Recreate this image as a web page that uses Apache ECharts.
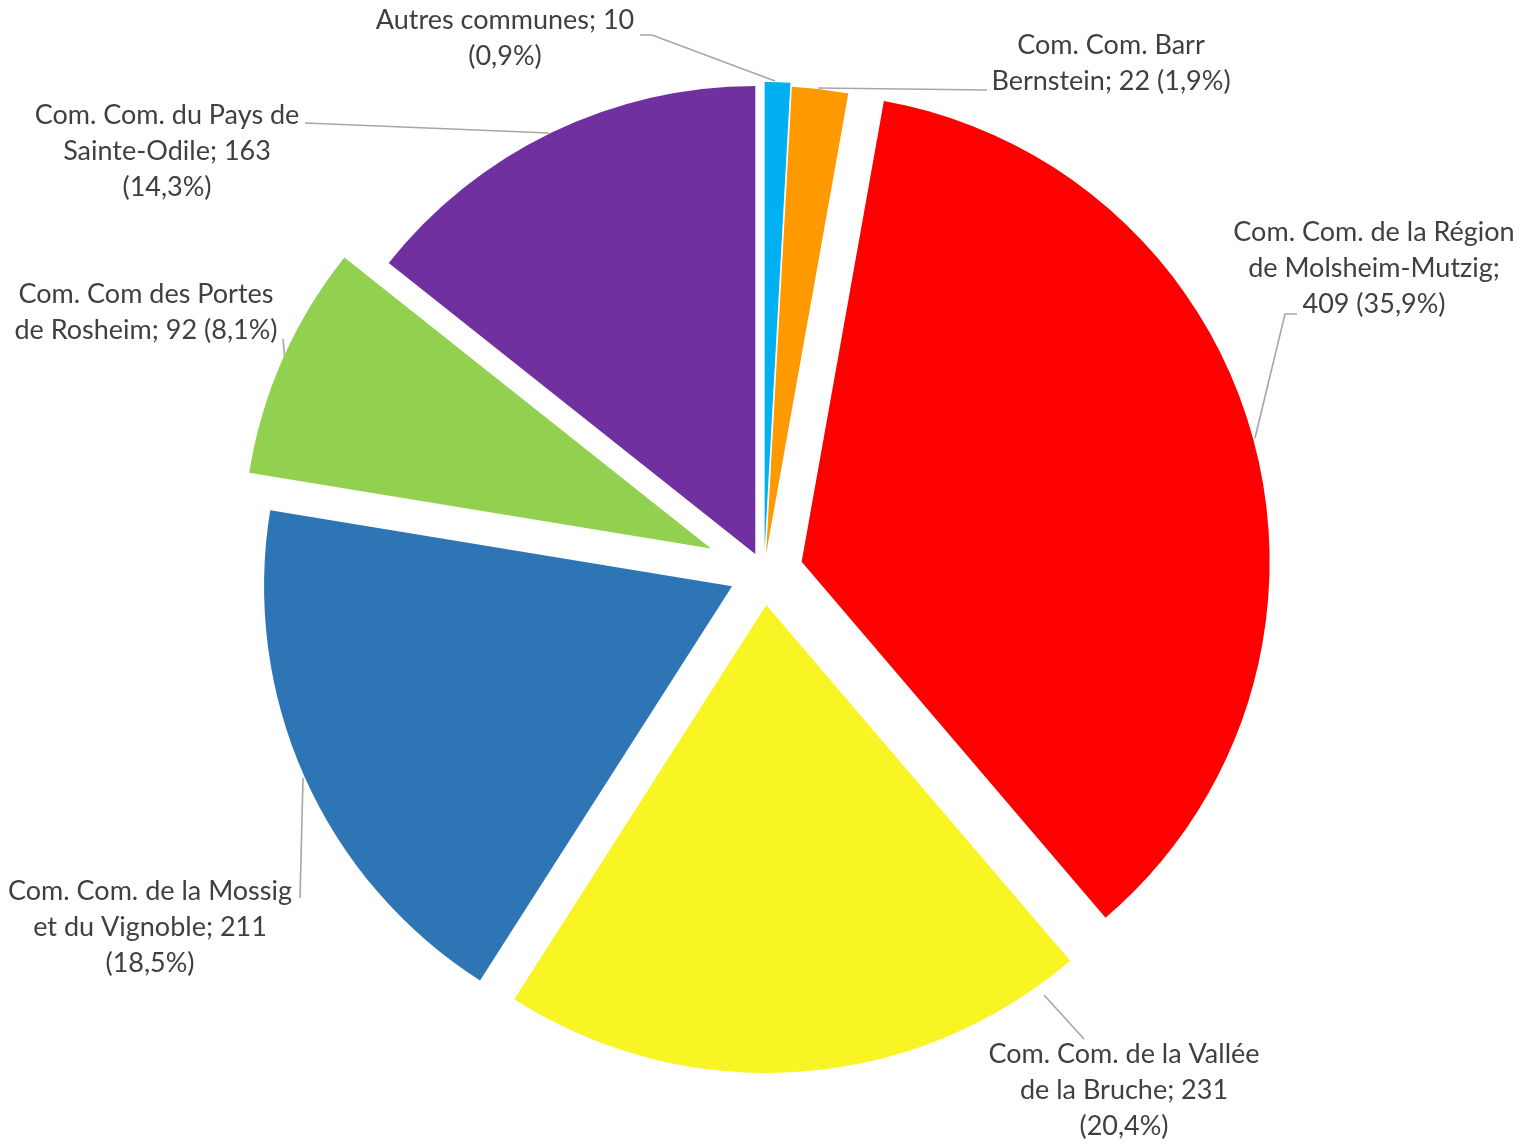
<!DOCTYPE html>
<html><head><meta charset="utf-8">
<script src="https://cdn.jsdelivr.net/npm/echarts@6/dist/echarts.min.js"></script>
<style>html,body{margin:0;padding:0;background:#fff}#c{width:1531px;height:1144px}</style>
</head><body><div id="c"></div>
<script>
// ---- data ----
const categories = [
  'Autres communes',
  'Com. Com. Barr Bernstein',
  'Com. Com. de la Région de Molsheim-Mutzig',
  'Com. Com. de la Vallée de la Bruche',
  'Com. Com. de la Mossig et du Vignoble',
  'Com. Com des Portes de Rosheim',
  'Com. Com. du Pays de Sainte-Odile'
];
const values = [10, 22, 409, 231, 211, 92, 163];
const percentLabels = ['0,9%', '1,9%', '35,9%', '20,4%', '18,5%', '8,1%', '14,3%'];

// ---- style / layout ----
const colors = ['#00B0F0', '#FF9900', '#FF0000', '#F9F423', '#2E75B6', '#92D050', '#7030A0'];
const pieCenter = [764, 572];
const pieRadius = 468;
const explodeOffsets = [22, 18, 39, 33, 35, 58, 20];
const labelCenters = [[505, 38], [1111, 63], [1374, 268], [1124, 1090], [150, 927], [146, 312], [167, 151]];
const lineBreaks = [[3], [3], [5, 7], [5, 9], [5, 9], [4], [5, 7]];
// leader-line paths (annotation layout)
const leaderLines = [
  [[775, 81], [652, 35], [640, 35]],
  [[818, 88], [987, 90], [987, 90]],
  [[1255, 438], [1285, 314], [1297, 314]],
  [[1044, 995], [1084, 1039], [1084, 1039]],
  [[303, 778], [300, 898], [300, 898]],
  [[285, 361], [283, 339], [283, 339]],
  [[549, 133], [305, 123], [305, 123]]
];

function labelText(i) {
  const words = (categories[i] + '; ' + values[i] + ' (' + percentLabels[i] + ')').split(' ');
  let out = '';
  words.forEach((w, k) => {
    if (k > 0) out += lineBreaks[i].includes(k) ? '\n' : ' ';
    out += w;
  });
  return out;
}

// explosion: shift each slice's pie along its own mid-angle (derived from the values)
const total = values.reduce((a, b) => a + b, 0);
let acc = 0;
const sliceCenters = values.map((v, i) => {
  const mid = (acc + v / 2) / total * 2 * Math.PI; // clockwise from 12 o'clock
  acc += v;
  return [pieCenter[0] + explodeOffsets[i] * Math.sin(mid), pieCenter[1] - explodeOffsets[i] * Math.cos(mid)];
});

const chart = echarts.init(document.getElementById('c'), null, {renderer: 'canvas'});
const series = categories.map((_, i) => ({
  type: 'pie',
  center: sliceCenters[i],
  radius: pieRadius,
  startAngle: 90,
  clockwise: true,
  avoidLabelOverlap: false,
  silent: true,
  animation: false,
  emphasis: {disabled: true},
  label: {show: false},
  labelLine: {show: false},
  data: values.map((v, j) => j === i ? {
    value: v, name: categories[j],
    itemStyle: {color: colors[j]},
    label: {
      show: true, position: 'outside', formatter: labelText(j),
      color: '#404040', fontFamily: 'Lato', fontSize: 27, lineHeight: 36, align: 'center'
    },
    labelLine: {show: true, length: 10, length2: 10, smooth: false, lineStyle: {color: '#A6A6A6', width: 1.6}}
  } : {
    value: v, name: categories[j],
    itemStyle: {color: 'rgba(0,0,0,0)'},
    label: {show: false}, labelLine: {show: false}
  }),
  labelLayout: (p) => p.dataIndex === i ? {
    x: labelCenters[i][0], y: labelCenters[i][1], align: 'center', verticalAlign: 'middle',
    labelLinePoints: leaderLines[i]
  } : {}
}));

chart.setOption({
  backgroundColor: '#ffffff',
  animation: false,
  series: series
});
</script>
</body></html>
